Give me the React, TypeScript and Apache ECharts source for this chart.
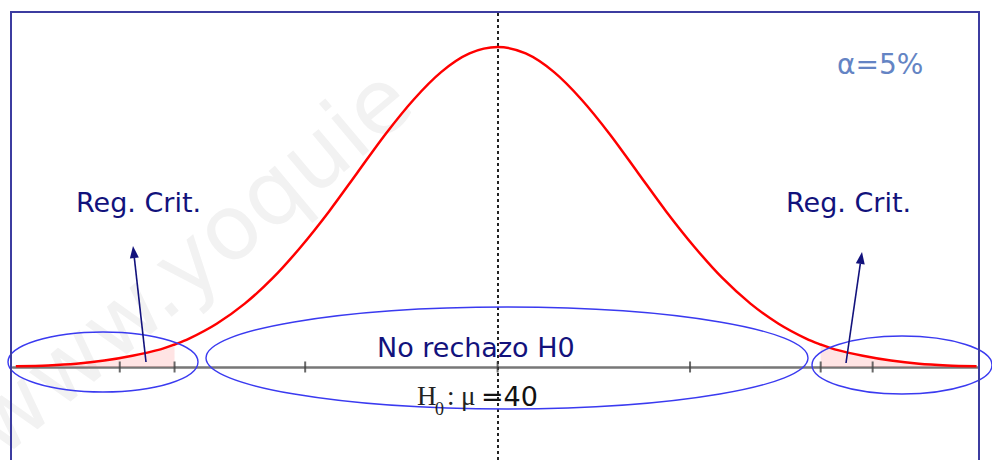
import React, { useEffect, useRef } from "react";
import * as echarts from "echarts";

// Normal curve (mu = 40, x in sigma units)
const curveX = [36.57, 36.8, 37.0, 37.2, 37.4, 37.6, 37.7, 37.8, 38.0, 38.2, 38.4, 38.6, 38.8, 39.0, 39.2, 39.4, 39.6, 39.8, 40.0, 40.2, 40.4, 40.6, 40.8, 41.0, 41.2, 41.4, 41.6, 41.8, 42.0, 42.2, 42.3, 42.4, 42.6, 42.8, 43.0, 43.2, 43.41];
const curveY = [0.001, 0.002, 0.004, 0.008, 0.014, 0.022, 0.028, 0.035, 0.054, 0.079, 0.111, 0.15, 0.194, 0.242, 0.29, 0.333, 0.368, 0.391, 0.399, 0.391, 0.368, 0.333, 0.29, 0.242, 0.194, 0.15, 0.111, 0.079, 0.054, 0.035, 0.028, 0.022, 0.014, 0.008, 0.004, 0.002, 0.001];
const tickX = [37.31, 37.7, 38.63, 40.0, 41.37, 42.3, 42.67];
const MU = 40;
const critLow = 37.7;
const critHigh = 42.3;

const NAVY = "#12127c";

function arrow(tail: number[], tip: number[], color: string) {
  const dx = tip[0] - tail[0];
  const dy = tip[1] - tail[1];
  const len = Math.sqrt(dx * dx + dy * dy);
  const ux = dx / len;
  const uy = dy / len;
  const px = -uy;
  const py = ux;
  const hl = 12;
  const hw = 4.5;
  const bx = tip[0] - ux * hl;
  const by = tip[1] - uy * hl;
  return [
    {
      type: "line",
      z: 20,
      shape: { x1: tail[0], y1: tail[1], x2: bx, y2: by },
      style: { stroke: color, lineWidth: 1.6 },
    },
    {
      type: "polygon",
      z: 20,
      shape: {
        points: [
          [tip[0], tip[1]],
          [bx + px * hw, by + py * hw],
          [bx - px * hw, by - py * hw],
        ],
      },
      style: { fill: color },
    },
  ];
}

export default function App() {
  const ref = useRef<HTMLDivElement>(null);
  useEffect(() => {
    document.body.style.margin = "0";
    if (!ref.current) return;
    const chart = echarts.init(ref.current, null, { renderer: "svg" });
    const pts = curveX.map((x, i) => [x, curveY[i]]);
    const leftTail = pts.filter((p) => p[0] <= critLow);
    const rightTail = pts.filter((p) => p[0] >= critHigh);
    const sans = "DejaVu Sans";
    const serif = "Liberation Serif";
    const serifText = (text: string, x: number, y: number, size: number) => ({
      type: "text",
      z: 25,
      x,
      y,
      style: { text, font: `${size}px ${serif}`, fill: "#222222", align: "left", verticalAlign: "middle" },
    });
    chart.setOption({
      animation: false,
      backgroundColor: "#ffffff",
      grid: { left: 13, right: 14, top: 12, bottom: 0 },
      xAxis: {
        type: "value",
        min: 36.55,
        max: 43.42,
        axisLine: { onZero: true, lineStyle: { color: "#777777", width: 2.5 } },
        axisTick: { show: false },
        axisLabel: { show: false },
        splitLine: { show: false },
      },
      yAxis: {
        type: "value",
        min: -0.116,
        max: 0.4427,
        show: false,
        splitLine: { show: false },
      },
      series: [
        {
          type: "line",
          data: leftTail,
          smooth: 0.3,
          symbol: "none",
          lineStyle: { width: 0 },
          areaStyle: { color: "rgba(255,170,170,0.45)" },
          z: 1,
        },
        {
          type: "line",
          data: rightTail,
          smooth: 0.3,
          symbol: "none",
          lineStyle: { width: 0 },
          areaStyle: { color: "rgba(255,170,170,0.45)" },
          z: 1,
        },
        {
          type: "line",
          data: pts,
          smooth: 0.3,
          symbol: "none",
          lineStyle: { color: "#ff0000", width: 2.5 },
          z: 5,
          markLine: {
            silent: true,
            symbol: "none",
            label: { show: false },
            lineStyle: { type: [3, 3], color: "#222222", width: 2 },
            data: [{ xAxis: MU }],
          },
        },
        {
          type: "scatter",
          data: tickX.map((v) => [v, 0]),
          symbol: "rect",
          symbolSize: [2, 11],
          itemStyle: { color: "#444444" },
          z: 6,
        },
      ],
      graphic: [
        {
          type: "text",
          z: -10,
          x: 10,
          y: 470,
          rotation: (40 * Math.PI) / 180,
          style: {
            text: "www.yoquie",
            font: "90px DejaVu Sans",
            fill: "#f2f2f2",
            align: "left",
            verticalAlign: "bottom",
          },
        },
        {
          type: "rect",
          z: 30,
          shape: { x: 11, y: 12, width: 968, height: 470 },
          style: { fill: "none", stroke: "#3c3ca0", lineWidth: 2 },
        },
        {
          type: "ellipse",
          z: 15,
          shape: { cx: 103, cy: 362, rx: 95, ry: 30 },
          style: { fill: "none", stroke: "#3a3af0", lineWidth: 1.4 },
        },
        {
          type: "ellipse",
          z: 15,
          shape: { cx: 507, cy: 358, rx: 301, ry: 51 },
          style: { fill: "none", stroke: "#3a3af0", lineWidth: 1.4 },
        },
        {
          type: "ellipse",
          z: 15,
          shape: { cx: 902, cy: 365, rx: 90, ry: 29 },
          style: { fill: "none", stroke: "#3a3af0", lineWidth: 1.4 },
        },
        ...arrow([146, 362], [133, 246], NAVY),
        ...arrow([846, 363], [862, 252], NAVY),
        {
          type: "text",
          z: 25,
          x: 76,
          y: 202,
          style: { text: "Reg. Crit.", font: `27px ${sans}`, fill: NAVY, align: "left", verticalAlign: "middle" },
        },
        {
          type: "text",
          z: 25,
          x: 786,
          y: 202,
          style: { text: "Reg. Crit.", font: `27px ${sans}`, fill: NAVY, align: "left", verticalAlign: "middle" },
        },
        {
          type: "text",
          z: 25,
          x: 837,
          y: 64,
          style: { text: "α=5%", font: `28px ${sans}`, fill: "#6484c4", align: "left", verticalAlign: "middle" },
        },
        {
          type: "text",
          z: 25,
          x: 377,
          y: 347,
          style: { text: "No rechazo H0", font: `27px ${sans}`, fill: NAVY, align: "left", verticalAlign: "middle" },
        },
        serifText("H", 417, 396, 27),
        serifText("0", 435, 409, 18),
        serifText(":", 447, 396, 27),
        serifText("μ", 461, 396, 27),
        {
          type: "text",
          z: 25,
          x: 481,
          y: 396,
          style: { text: "=40", font: `27px ${sans}`, fill: "#111111", align: "left", verticalAlign: "middle" },
        },
      ],
    });
    return () => chart.dispose();
  }, []);
  return <div ref={ref} style={{ width: 992, height: 460 }} />;
}
